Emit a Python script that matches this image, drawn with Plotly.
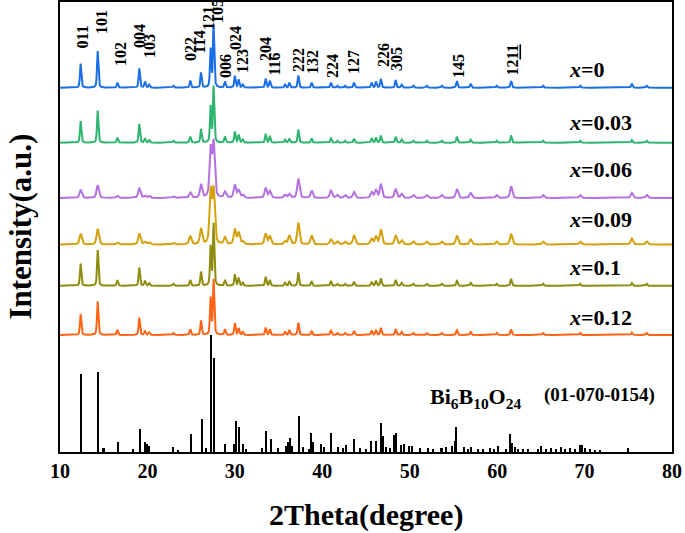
import numpy as np
import plotly.graph_objects as go

# ---------------- data ----------------
peak_pos = [12.36, 14.31, 16.56, 19.07, 19.72, 20.2, 22.96, 24.9, 26.13, 27.23, 27.57,
            28.87, 30.0, 30.43, 30.9, 33.52, 34.0, 35.74, 36.23, 37.26, 38.78, 40.99,
            41.72, 42.6, 43.63, 45.65, 46.14, 46.7, 48.39, 49.08, 50.41, 51.94, 53.66,
            55.4, 56.97, 59.94, 61.6, 65.25, 69.5, 75.4, 77.1]

h_x0 = [24, 36.7, 5, 19.3, 6, 3, 2, 7, 15, 38, 62, 6, 11.7, 8, 3, 9, 7, 3, 5, 12.3, 5, 5,
        2, 2, 5, 5, 6, 8.7, 7.7, 3, 2, 2, 2, 6.5, 4, 2, 6.7, 2, 2, 4, 2]
h_x003 = [21.7, 32, 5, 18.7, 4.3, 2.5, 2, 6, 13.7, 36, 56, 6, 11, 8, 3, 8.7, 6.7, 3, 4, 13.3,
          4.3, 4.3, 2, 2, 4, 4, 5, 7, 6, 3, 2, 2, 2, 6, 3, 2, 7.3, 2, 2, 2.7, 2]
h_x006 = [8.3, 12.7, 2.3, 10, 2, 2, 1.5, 5.3, 13.3, 48.3, 54.3, 6, 12.7, 7.7, 3, 10, 6.7, 3,
          4, 19.3, 7.3, 7.3, 3, 3, 6, 6, 8, 14, 9, 4, 3, 3, 3, 9, 5, 3, 11.7, 3, 3, 5, 3]
h_x009 = [10.7, 15.7, 2, 11, 2.5, 2, 1.5, 8.3, 15.7, 53, 54, 6.7, 15, 11.7, 3, 10.7, 8.3, 3,
          9, 21.7, 9, 5, 3, 3, 9.3, 6, 8, 15, 9, 4, 3, 3, 3, 9, 5, 3, 10.7, 3, 3, 6, 3]
h_x01 = [22.3, 35.7, 5.7, 18.3, 5, 2.5, 2, 5.7, 14, 39, 61.7, 5.7, 11.3, 8, 3, 9, 5.7, 3,
         4.7, 13.3, 4.7, 4.7, 2, 2, 4, 4, 5, 7.5, 6, 3, 2, 2, 2, 5, 3, 2, 7, 2, 2, 2.7, 2]
h_x012 = [21, 33.7, 5, 17.3, 4.3, 2.5, 2, 5.7, 14.3, 36.7, 55, 5.7, 11.7, 6.7, 3, 7.3, 5.7,
          3, 5, 12.3, 4.3, 5, 2, 2, 4, 4, 5, 7, 6, 3, 2, 2, 2, 5, 3, 2, 5.7, 2, 2, 2.3, 2]

series_names = ["<i>x</i>=0", "<i>x</i>=0.03", "<i>x</i>=0.06", "<i>x</i>=0.09",
                "<i>x</i>=0.1", "<i>x</i>=0.12"]
series_heights = [h_x0, h_x003, h_x006, h_x009, h_x01, h_x012]
series_offsets = [364.3, 309.3, 254, 207.5, 166.2, 117]
series_fwhm = [0.18, 0.18, 0.30, 0.30, 0.18, 0.18]
series_colors = ["#1a6fe6", "#2db46e", "#b470e0", "#d4a10a", "#8e8c0c", "#ff6414"]
label_y = [383, 330, 283, 233, 185, 135]

ref_pos = [12.44, 14.42, 15.0, 16.63, 18.43, 19.15, 19.8, 20.03, 20.26, 23.0, 23.57, 24.98,
           26.28, 26.7, 27.3, 27.69, 28.9, 29.9, 30.13, 30.55, 31.0, 31.27, 33.18, 33.58,
           34.13, 34.97, 35.85, 36.08, 36.3, 36.57, 37.34, 37.83, 38.5, 38.78, 38.98, 39.93,
           40.2, 41.07, 41.84, 42.4, 42.7, 43.63, 44.3, 45.0, 45.65, 46.14, 46.75, 46.98,
           47.29, 47.74, 48.2, 48.51, 49.08, 49.38, 49.92, 50.34, 51.18, 52.13, 52.7, 53.66,
           54.23, 54.91, 55.18, 55.37, 56.2, 56.7, 57.09, 57.85, 58.42, 59.18, 59.64, 60.13,
           61.09, 61.55, 61.78, 62.04, 62.42, 62.99, 63.56, 64.7, 65.09, 65.66, 66.23, 66.8,
           67.38, 67.76, 68.33, 68.9, 69.48, 69.78, 70.05, 70.62, 71.19, 71.76, 75.0]
ref_int = [77.7, 80, 4, 10, 3, 22.7, 10, 8, 6, 5, 2, 18, 33, 4, 117, 93.7, 8, 8, 31, 24.7, 8,
           3, 4, 21, 13, 4, 6, 10, 14, 6, 35.7, 5, 3, 18.7, 10, 8, 5, 18.7, 5, 4, 7, 13, 4, 3,
           11, 11, 29, 16, 5, 4, 17, 18.7, 7, 8, 6, 6, 4, 4, 3, 4, 5, 6, 11, 24.7, 5, 3, 5, 3,
           3, 4, 3, 6, 3, 18, 9, 5, 3, 3, 3, 3, 6, 3, 4, 3, 5, 3, 4, 3, 7, 7, 4, 3, 2, 2, 4]

hkl_text = ["011", "101", "102", "004", "103", "022", "114", "121", "105", "006", "024",
            "123", "204", "116", "222", "132", "224", "127", "226", "305", "145", "12<u>11</u>"]
hkl_x = [12.63, 14.69, 16.86, 19.04, 20.18, 24.87, 26.01, 26.93, 28.07, 28.87, 30.02,
         30.82, 33.45, 34.48, 37.22, 38.82, 41.11, 43.51, 46.94, 48.43, 55.52, 61.81]
hkl_y = [402, 416, 384, 402, 392, 389, 397, 420, 427, 372, 400, 377, 389, 374, 378, 376,
         372, 376, 383, 379, 372, 375]

# ---------------- figure ----------------
FONT = "Liberation Serif"
tt = np.arange(10, 80.0001, 0.01)


def pattern(heights, fwhm, offset):
    y = np.full_like(tt, offset)
    g = fwhm / 2.0
    s = fwhm / 2.3548
    for p, h in zip(peak_pos, heights):
        lor = 1.0 / (1.0 + ((tt - p) / g) ** 2)
        gau = np.exp(-0.5 * ((tt - p) / s) ** 2)
        y += h * (0.5 * lor + 0.5 * gau)
    return y


fig = go.Figure()

fig.add_trace(go.Bar(x=ref_pos, y=ref_int, width=0.18, marker=dict(color="black", line_width=0),
                     showlegend=False))

for name, hs, off, fw, col in zip(series_names, series_heights, series_offsets,
                                  series_fwhm, series_colors):
    fig.add_trace(go.Scatter(x=tt, y=pattern(hs, fw, off), mode="lines", name=name,
                             line=dict(color=col, width=2), showlegend=False))

ann = []
for name, ly in zip(series_names, label_y):
    ann.append(dict(x=68, y=ly, xref="x", yref="y", text="<b>" + name + "</b>",
                    showarrow=False, xanchor="left", yanchor="middle",
                    font=dict(family=FONT, size=22, color="black")))

for t, hx, hy in zip(hkl_text, hkl_x, hkl_y):
    ann.append(dict(x=hx, y=hy, xref="x", yref="y", text="<b>" + t + "</b>", textangle=-90,
                    showarrow=False, xanchor="center", yanchor="bottom",
                    font=dict(family=FONT, size=16, color="black")))

ann.append(dict(x=62.9, y=54, xref="x", yref="y",
                text="<b>Bi<sub>6</sub>B<sub>10</sub>O<sub>24</sub></b>", showarrow=False,
                xanchor="right", yanchor="middle", font=dict(family=FONT, size=22, color="black")))
ann.append(dict(x=65.1, y=57, xref="x", yref="y", text="<b>(01-070-0154)</b>", showarrow=False,
                xanchor="left", yanchor="middle", font=dict(family=FONT, size=19, color="black")))

ann.append(dict(x=-0.066, y=0.5, xref="paper", yref="paper", text="<b>Intensity(a.u.)</b>",
                textangle=-90, showarrow=False, xanchor="center", yanchor="middle",
                font=dict(family=FONT, size=31, color="black")))
ann.append(dict(x=0.5, y=-0.14, xref="paper", yref="paper", text="<b>2Theta(degree)</b>",
                showarrow=False, xanchor="center", yanchor="middle",
                font=dict(family=FONT, size=30, color="black")))

fig.update_layout(
    width=685, height=533,
    margin=dict(l=60, r=13, t=2, b=81),
    paper_bgcolor="white", plot_bgcolor="white",
    annotations=ann,
    bargap=0,
    xaxis=dict(range=[10, 80], dtick=10, tick0=10, showgrid=False, zeroline=False,
               showline=True, mirror=True, linecolor="black", linewidth=2, ticks="",
               automargin=False,
               tickfont=dict(family=FONT, size=20, color="black"), tickprefix="<b>",
               ticksuffix="</b>"),
    yaxis=dict(range=[0, 450], showgrid=False, zeroline=False, showticklabels=False,
               automargin=False,
               showline=True, mirror=True, linecolor="black", linewidth=2, ticks=""),
)

fig.write_html("out.html", config={"displayModeBar": False},
               post_script="document.body.style.margin='0';")
